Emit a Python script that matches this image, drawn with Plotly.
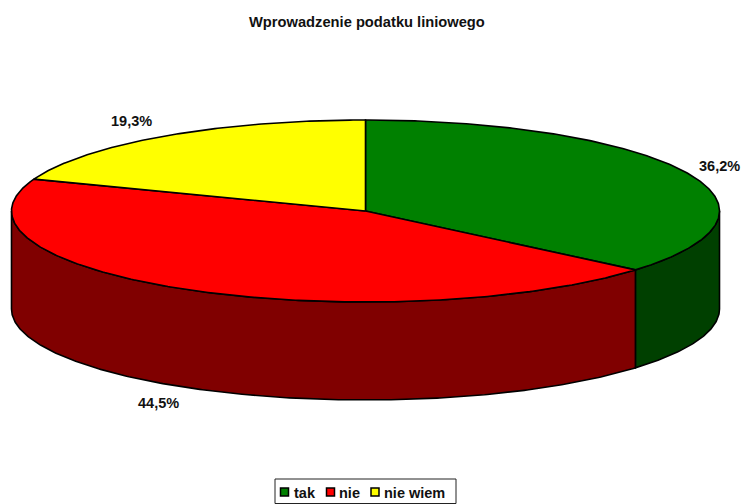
import math
import plotly.graph_objects as go

TITLE = "Wprowadzenie podatku liniowego"
categories = ["tak", "nie", "nie wiem"]
values = [36.2, 44.5, 19.3]
top_colors = ["#008000", "#FF0000", "#FFFF00"]
wall_colors = ["#004000", "#800000", "#808000"]
data_labels = ["36,2%", "44,5%", "19,3%"]

W, H = 741, 504
CX, CY, RX, RY, DEPTH = 365.5, 211, 354, 91, 98
FONT = "Liberation Sans, Arial, sans-serif"
INK = "#111111"


def pt(t, drop=0):
    a = math.radians(t)
    return CX + RX * math.sin(a), CY - RY * math.cos(a) + drop


def arc(t0, t1, drop=0):
    n = max(2, int(abs(t1 - t0) * 2))
    return [pt(t0 + (t1 - t0) * i / n, drop) for i in range(n + 1)]


def poly(points, color, name):
    return go.Scatter(
        x=[p[0] for p in points], y=[p[1] for p in points],
        mode="lines", fill="toself", fillcolor=color,
        line=dict(color="black", width=1.6), name=name,
        showlegend=False, hoverinfo="skip",
    )


fig = go.Figure()
total = sum(values)
spans, t = [], 0.0
for v in values:
    spans.append((t, t + v / total * 360))
    t += v / total * 360

# side walls: only the part of the rim on the front half is visible
for (t0, t1), col, cat in zip(spans, wall_colors, categories):
    a, b = max(t0, 90), min(t1, 270)
    if a < b:
        fig.add_trace(poly(arc(a, b) + arc(b, a, DEPTH) + [pt(a)], col, cat))

# top faces
for (t0, t1), col, cat in zip(spans, top_colors, categories):
    fig.add_trace(poly([(CX, CY)] + arc(t0, t1) + [(CX, CY)], col, cat))

annotations = [dict(x=367, y=22, text=TITLE, showarrow=False,
                    font=dict(family=FONT, size=14.7, color=INK, weight="bold"))]

label_pos = [(719, 166), (158, 403), (131, 121)]
for (x, y), txt in zip(label_pos, data_labels):
    annotations.append(dict(x=x, y=y, text=txt, showarrow=False,
                            font=dict(family=FONT, size=14.5, color=INK, weight="bold")))

# legend
swatch_x = [284.5, 330.5, 375]
text_x = [294, 339, 384]
for sx, tx, col, cat in zip(swatch_x, text_x, top_colors, categories):
    fig.add_trace(go.Scatter(x=[sx], y=[492], mode="markers", showlegend=False, hoverinfo="skip",
                             marker=dict(symbol="square", size=8, color=col,
                                         line=dict(color="black", width=1.5))))
    annotations.append(dict(x=tx, y=493, xanchor="left", text=cat, showarrow=False,
                            xshift=-2,
                            font=dict(family=FONT, size=14.5, color=INK, weight="bold")))

fig.update_layout(
    width=W, height=H, autosize=False,
    margin=dict(l=0, r=0, t=0, b=0),
    paper_bgcolor="white", plot_bgcolor="white",
    xaxis=dict(range=[0, W], visible=False, fixedrange=True),
    yaxis=dict(range=[H, 0], visible=False, fixedrange=True),
    annotations=annotations,
    shapes=[dict(type="rect", x0=275, x1=456, y0=479, y1=503.5,
                 line=dict(color="#222222", width=1), layer="below")],
)
fig.write_html("out.html", config={"displayModeBar": False},
               post_script="document.body.style.margin='0';")
